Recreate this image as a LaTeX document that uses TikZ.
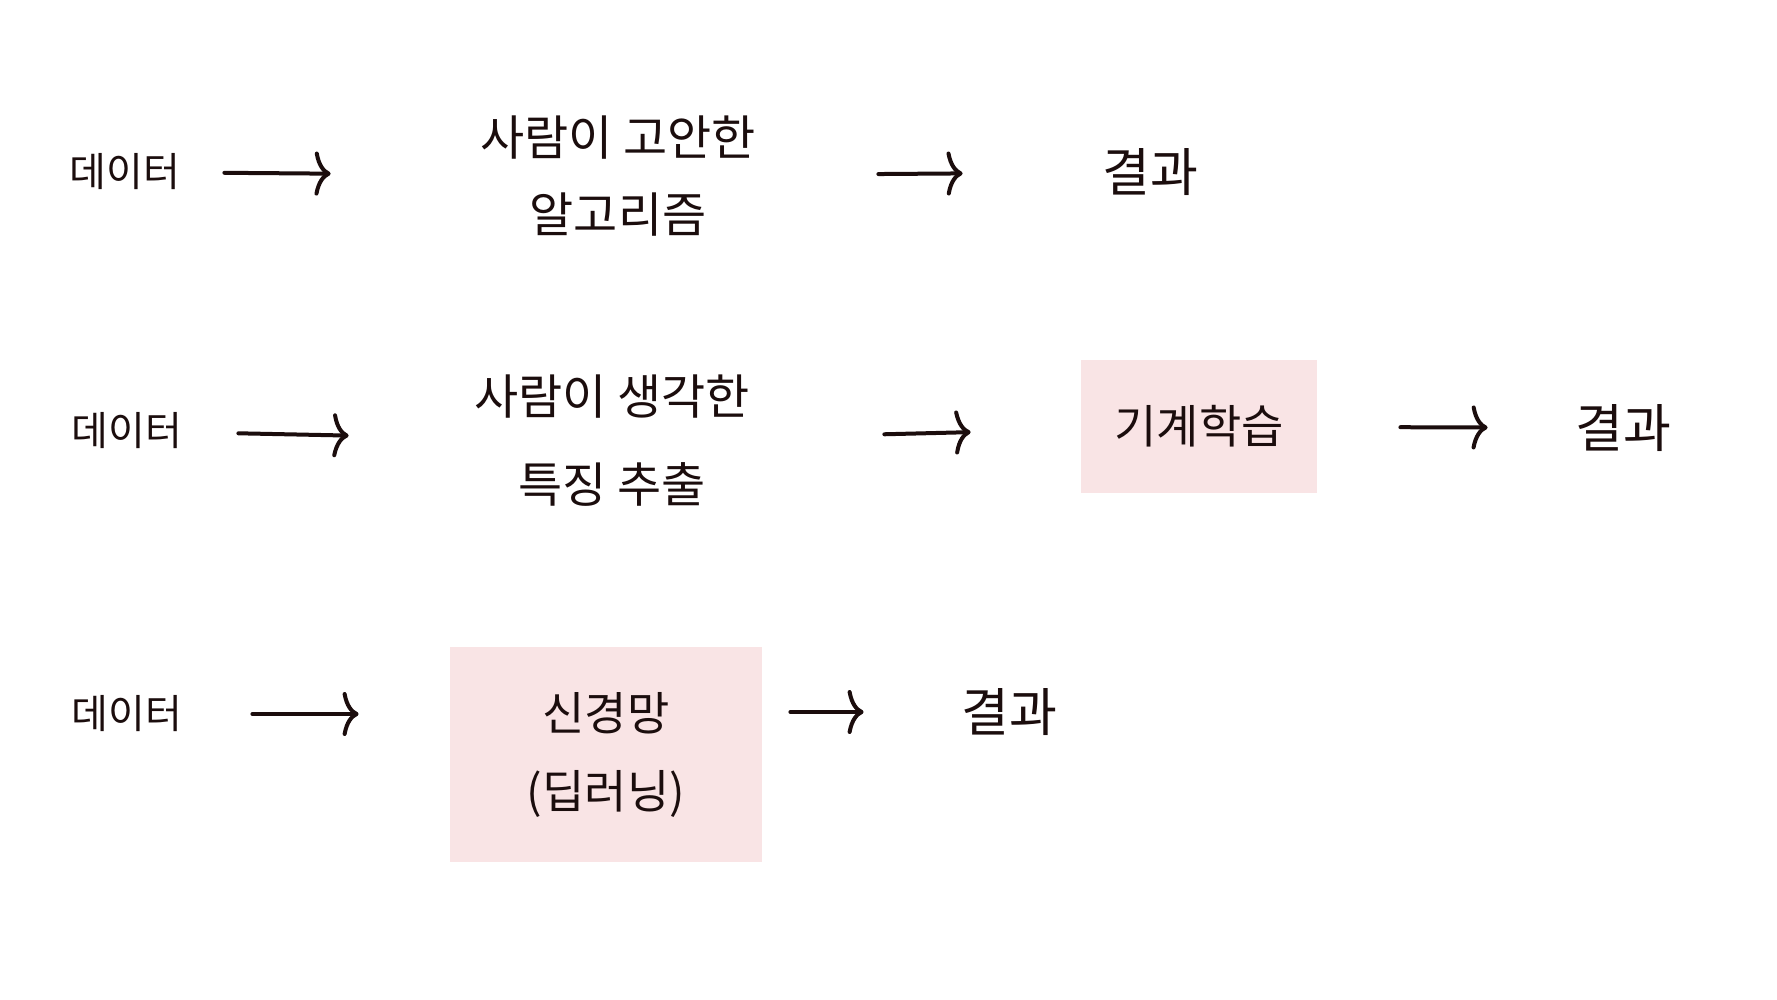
\documentclass[tikz,border=0pt]{standalone}
\usepackage{fontspec}
\newfontfamily\kr{Noto Sans CJK KR}
\usetikzlibrary{arrows.meta}
\definecolor{ink}{HTML}{1B0D0D}
\definecolor{boxpink}{HTML}{F9E4E5}
\tikzset{
  lbl/.style={font=\kr\fontsize{20}{38}\selectfont, text=ink, inner sep=0pt, minimum height=30pt, align=center},
  midtxt/.style={lbl, font=\kr\fontsize{24}{40}\selectfont, minimum width=150pt, minimum height=60pt},
  datatxt/.style={lbl, minimum width=65pt},
  restxt/.style={lbl, font=\kr\fontsize{26}{38}\selectfont, minimum width=60pt},
  pinkbox/.style={fill=boxpink, draw=none, inner sep=0pt, align=center, text=ink, font=\kr\fontsize{23}{39}\selectfont},
  arr/.style={draw=ink, line width=2pt, line cap=round, -{To[length=8pt, width=22pt, line width=2pt]}}
}
\begin{document}
\begin{tikzpicture}[x=0.5pt, y=-0.5pt]
\useasboundingbox[fill=white] (0,0) rectangle (1777,1000);
% Row 1
\node[datatxt] (d1) at (125,172) {데이터};
\node[midtxt, font=\kr\fontsize{24}{38.5}\selectfont] (t1) at (618,176) {사람이 고안한\\알고리즘};
\node[restxt] (r1) at (1150,172) {결과};
\draw[arr, shorten <=17pt, shorten >=68.5pt] (d1) -- (t1);
\draw[arr, shorten <=55pt, shorten >=63.5pt] (t1) -- (r1);
% Row 2
\node[datatxt] (d2) at (127,431) {데이터};
\node[midtxt, font=\kr\fontsize{24}{44}\selectfont] (t2) at (612,441) {사람이 생각한\\특징 추출};
\node[pinkbox, minimum width=118pt, minimum height=66.5pt] (b2) at (1199,426.5) {기계학습};
\node[restxt] (r2) at (1623,428) {결과};
\draw[arr, shorten <=23pt, shorten >=56.5pt] (d2) -- (t2);
\draw[arr, shorten <=61pt, shorten >=55pt] (t2) -- (b2);
\draw[arr, shorten <=41.5pt, shorten >=37.5pt] (b2) -- (r2);
% Row 3
\node[datatxt] (d3) at (127,714) {데이터};
\node[pinkbox, minimum width=156pt, minimum height=107.5pt] (b3) at (606,754.5) {신경망\\(딥러닝)};
\node[restxt] (r3) at (1009,712) {결과};
\draw[arr, shorten <=30pt, shorten >=45.5pt] (d3) -- (b3.west |- d3);
\draw[arr, shorten <=14pt, shorten >=42.5pt] (b3.east |- r3) -- (r3);
\end{tikzpicture}
\end{document}
